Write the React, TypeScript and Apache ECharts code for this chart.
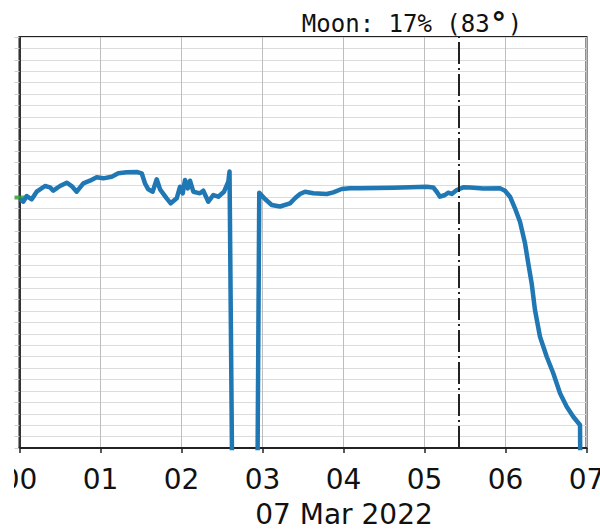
import React, { useEffect, useRef } from "react";
import * as echarts from "echarts";

const hourTicks = ["00", "01", "02", "03", "04", "05", "06", "07"];

const timeHours = [
  0.006, 0.047, 0.089, 0.151, 0.212, 0.315, 0.377, 0.417, 0.5, 0.583, 0.644, 0.706, 0.788, 0.87, 0.953,
  1.035, 1.138, 1.22, 1.323, 1.447, 1.509, 1.549, 1.59, 1.644, 1.694, 1.735, 1.817, 1.867, 1.941, 1.981,
  2.015, 2.043, 2.077, 2.105, 2.146, 2.228, 2.269, 2.331, 2.393, 2.454, 2.525, 2.578, 2.593, 2.63, 2.7,
  2.85, 2.938, 2.96, 3.031, 3.114, 3.216, 3.34, 3.401, 3.463, 3.525, 3.627, 3.793, 3.874, 3.978, 4.08,
  4.204, 4.41, 4.615, 4.821, 5.027, 5.109, 5.151, 5.191, 5.253, 5.294, 5.336, 5.398, 5.479, 5.562, 5.726,
  5.932, 5.994, 6.056, 6.117, 6.179, 6.241, 6.281, 6.323, 6.364, 6.426, 6.509, 6.59, 6.673, 6.756, 6.837,
  6.92, 6.926,
];

const altitudeDeg = [
  54.46, 53.93, 55.18, 54.46, 56.12, 57.37, 57.08, 56.34, 57.37, 58.09, 57.37, 56.12, 57.96, 58.53, 59.27,
  59.05, 59.4, 60.15, 60.37, 60.43, 60.15, 57.96, 56.65, 56.12, 58.84, 56.65, 54.68, 53.58, 54.68, 57.21,
  55.77, 58.68, 56.86, 58.53, 56.12, 55.77, 56.34, 53.93, 55.4, 55.03, 56.12, 58.31, 60.54, -15, -20,
  -20, -5, 55.9, 54.52, 53.21, 52.88, 53.58, 54.68, 55.62, 56.12, 55.77, 55.62, 55.99, 56.71, 56.86,
  56.86, 56.93, 57.0, 57.08, 57.21, 57.04, 56.12, 55.03, 55.4, 55.9, 55.62, 56.49, 57.08, 57.04, 56.82,
  56.86, 56.34, 55.03, 52.49, 49.55, 44.82, 40.44, 36.06, 30.22, 24.37, 19.99, 16.36, 11.98, 9.04, 6.85,
  5.04, -10,
];

const startMarkerHour = [0];
const startMarkerAlt = [54.85];

const moonMarkHour = 5.42;
const moonLabelPrefix = "Moon: 17% (83";
const moonLabelDegree = "°";
const moonLabelSuffix = ")";
const dateLabel = "07 Mar 2022";

export default function App() {
  const ref = useRef<HTMLDivElement>(null);

  useEffect(() => {
    const chart = echarts.init(ref.current!, null, { renderer: "svg" });
    const lineData = timeHours.map((t, i) => [t, altitudeDeg[i]]);
    const markerData = startMarkerHour.map((t, i) => [t, startMarkerAlt[i]]);

    chart.setOption({
      animation: false,
      backgroundColor: "#ffffff",
      grid: {
        left: 19.5,
        right: 13.5,
        top: 37,
        bottom: 81,
        show: true,
        borderColor: "#222",
        borderWidth: 2,
        containLabel: false,
        outerBoundsMode: "none",
      },
      xAxis: {
        type: "value",
        min: 0,
        max: 7,
        interval: 1,
        axisLine: { show: true, onZero: false, lineStyle: { color: "#222", width: 2 } },
        axisTick: { show: true, inside: false, length: 5, lineStyle: { color: "#222", width: 1.5 } },
        axisLabel: {
          show: true,
          margin: 17,
          fontFamily: "DejaVu Sans",
          fontSize: 28,
          color: "#111",
          formatter: (v: number) => hourTicks[Math.round(v)] ?? "",
          showMinLabel: true,
          showMaxLabel: true,
        },
        splitLine: { show: true, lineStyle: { color: "#bdbdbd", width: 1 } },
      },
      yAxis: {
        type: "value",
        min: 0,
        max: 90,
        interval: 2.5,
        axisLine: { show: true, onZero: false, lineStyle: { color: "#333", width: 2 } },
        axisTick: { show: true, inside: false, length: 5, lineStyle: { color: "#cfcfcf", width: 1 } },
        axisLabel: { show: false },
        splitLine: { show: true, lineStyle: { color: "#dcdcdc", width: 1 } },
      },
      series: [
        {
          type: "scatter",
          data: markerData,
          symbol: "rect",
          symbolSize: [10, 4],
          itemStyle: { color: "#2ca02c" },
          clip: false,
          z: 1,
          silent: true,
        },
        {
          type: "line",
          data: lineData,
          showSymbol: false,
          symbol: "none",
          clip: true,
          lineStyle: { color: "#1f77b4", width: 4.5, join: "round" },
          z: 3,
          silent: true,
          markLine: {
            silent: true,
            symbol: "none",
            label: { show: false },
            lineStyle: { color: "#222", width: 2, type: [22, 4, 2, 4] },
            data: [{ xAxis: moonMarkHour }],
          },
        },
      ],
      graphic: [
        {
          type: "rect",
          shape: { x: 0, y: 0, width: 14, height: 529 },
          style: { fill: "#ffffff" },
          z: 100,
          silent: true,
        },
        {
          type: "text",
          x: 412,
          y: 23.5,
          style: {
            text: `${moonLabelPrefix}{deg|${moonLabelDegree}}${moonLabelSuffix}`,
            fontFamily: "DejaVu Sans Mono",
            fontSize: 24,
            fill: "#111",
            align: "center",
            verticalAlign: "middle",
            rich: {
              deg: {
                fontFamily: "DejaVu Sans Mono",
                fontWeight: "bold",
                fontSize: 30,
                fill: "#111",
                verticalAlign: "middle",
              },
            },
          },
          z: 100,
        },
        {
          type: "text",
          x: 344,
          y: 514,
          style: {
            text: dateLabel,
            fontFamily: "DejaVu Sans",
            fontSize: 28,
            lineHeight: 26,
            fill: "#111",
            align: "center",
            verticalAlign: "middle",
          },
          z: 100,
        },
      ],
    });

    return () => chart.dispose();
  }, []);

  return (
    <div
      ref={ref}
      style={{ position: "fixed", left: 0, top: 0, width: 600, height: 529 }}
    />
  );
}
